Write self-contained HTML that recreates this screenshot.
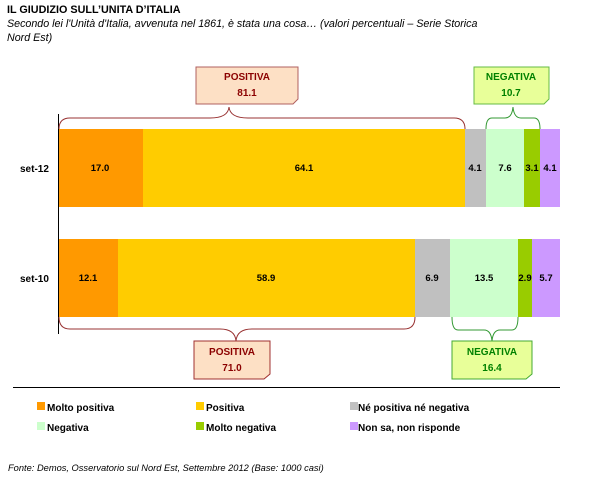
<!DOCTYPE html>
<html><head><meta charset="utf-8"><style>
body{margin:0;background:#fff;width:600px;height:479px;overflow:hidden}
svg text{font-family:"Liberation Sans",Arial,sans-serif}
</style></head><body>
<svg width="600" height="479" viewBox="0 0 600 479" xmlns="http://www.w3.org/2000/svg">
<text x="7" y="13" font-size="10.8" font-weight="bold">IL GIUDIZIO SULL’UNITA D’ITALIA</text>
<text x="7" y="27" font-size="10.7" font-style="italic">Secondo lei l'Unità d'Italia, avvenuta nel 1861, è stata una cosa…  (valori percentuali – Serie Storica</text>
<text x="7" y="41" font-size="10.7" font-style="italic">Nord Est)</text>
<g font-size="9.5" font-weight="bold" text-anchor="middle">
<rect x="58" y="129" width="85" height="78" fill="#ff9900"/>
<rect x="143" y="129" width="322" height="78" fill="#ffcc00"/>
<rect x="465" y="129" width="21" height="78" fill="#c0c0c0"/>
<rect x="486" y="129" width="38" height="78" fill="#ccffcc"/>
<rect x="524" y="129" width="16" height="78" fill="#99cc00"/>
<rect x="540" y="129" width="20" height="78" fill="#cc99ff"/>
<text x="100" y="171">17.0</text><text x="304" y="171">64.1</text><text x="475" y="171">4.1</text><text x="505" y="171">7.6</text><text x="532" y="171">3.1</text><text x="550" y="171">4.1</text>
<rect x="58" y="239" width="60" height="78" fill="#ff9900"/>
<rect x="118" y="239" width="297" height="78" fill="#ffcc00"/>
<rect x="415" y="239" width="35" height="78" fill="#c0c0c0"/>
<rect x="450" y="239" width="68" height="78" fill="#ccffcc"/>
<rect x="518" y="239" width="14" height="78" fill="#99cc00"/>
<rect x="532" y="239" width="28" height="78" fill="#cc99ff"/>
<text x="88" y="281">12.1</text><text x="266" y="281">58.9</text><text x="432" y="281">6.9</text><text x="484" y="281">13.5</text><text x="525" y="281">2.9</text><text x="546" y="281">5.7</text>
</g>
<line x1="58.5" y1="114" x2="58.5" y2="334" stroke="#000"/>
<text x="20" y="172" font-size="10" font-weight="bold">set-12</text>
<text x="20" y="282" font-size="10" font-weight="bold">set-10</text>
<path d="M59,129 Q59,118 70,118 L210,118 Q228,118 229,107 Q230,118 248,118 L454,118 Q465,118 465,129" fill="none" stroke="#993333" stroke-width="1"/>
<path d="M486,129 Q486,118 492,118 L505,118 Q512,118 513,107 Q514,118 521,118 L534,118 Q540,118 540,129" fill="none" stroke="#339933" stroke-width="1"/>
<path d="M59,317 Q59,329 70,329 L220,329 Q235,329 236,341 Q237,329 252,329 L404,329 Q415,329 415,317" fill="none" stroke="#993333" stroke-width="1"/>
<path d="M452,317 Q452,330 458,330 L484,330 Q491,330 492,341 Q493,330 500,330 L512,330 Q518,330 518,317" fill="none" stroke="#339933" stroke-width="1"/>
<g font-size="10" font-weight="bold" text-anchor="middle">
<path d="M196,67 L298,67 L298,99 L293,104 L196,104 Z" fill="#fde0c5" stroke="#b06060"/>
<text x="247" y="80" fill="#8b0000">POSITIVA</text><text x="247" y="96" fill="#8b0000">81.1</text>
<path d="M474,67 L549,67 L549,99 L544,104 L474,104 Z" fill="#e8ff99" stroke="#66bb44"/>
<text x="511" y="80" fill="#008000">NEGATIVA</text><text x="511" y="96" fill="#008000">10.7</text>
<path d="M194,341 L270,341 L270,374 L264,379 L194,379 Z" fill="#fde0c5" stroke="#a03030"/>
<text x="232" y="355" fill="#8b0000">POSITIVA</text><text x="232" y="371" fill="#8b0000">71.0</text>
<path d="M452,341 L532,341 L532,374 L526,379 L452,379 Z" fill="#e8ff99" stroke="#44aa33"/>
<text x="492" y="355" fill="#008000">NEGATIVA</text><text x="492" y="371" fill="#008000">16.4</text>
</g>
<line x1="13" y1="387.5" x2="560" y2="387.5" stroke="#000"/>
<g font-size="10" font-weight="bold">
<rect x="37" y="402" width="8" height="8" fill="#ff9900"/><text x="47" y="411">Molto positiva</text>
<rect x="196" y="402" width="8" height="8" fill="#ffcc00"/><text x="206" y="411">Positiva</text>
<rect x="350" y="402" width="8" height="8" fill="#c0c0c0"/><text x="358" y="411">Né positiva né negativa</text>
<rect x="37" y="422" width="8" height="8" fill="#ccffcc"/><text x="47" y="431">Negativa</text>
<rect x="196" y="422" width="8" height="8" fill="#99cc00"/><text x="206" y="431">Molto negativa</text>
<rect x="350" y="422" width="8" height="8" fill="#cc99ff"/><text x="358" y="431">Non sa, non risponde</text>
</g>
<text x="8" y="471" font-size="9.3" font-style="italic">Fonte: Demos, Osservatorio sul Nord Est, Settembre 2012 (Base: 1000 casi)</text>
</svg>
</body></html>
